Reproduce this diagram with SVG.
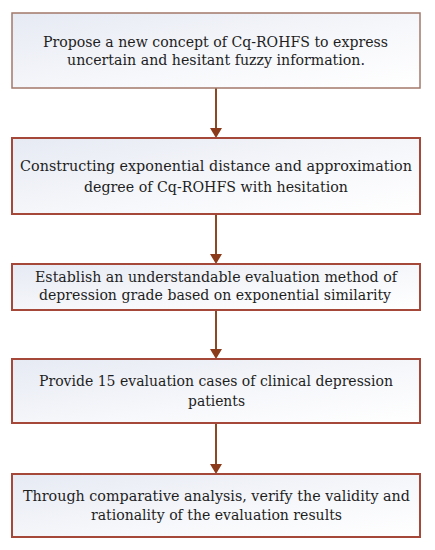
<svg xmlns="http://www.w3.org/2000/svg" width="435" height="550" viewBox="0 0 435 550">
<defs>
<linearGradient id="bg" x1="0" y1="0" x2="1" y2="1">
<stop offset="0" stop-color="#e6eaf3"/>
<stop offset="0.6" stop-color="#f7f8fb"/>
<stop offset="1" stop-color="#ffffff"/>
</linearGradient>
</defs>
<style>
.box{fill:url(#bg);stroke:#a5483a;stroke-width:2}
.box1{fill:url(#bg);stroke:#a3786a;stroke-width:1.5}
.c{stroke:#8b4a24;stroke-width:2;fill:none}
text{font-family:'DejaVu Serif',serif;font-size:15px;fill:#1e1e1e}
</style>
<rect width="435" height="550" fill="#ffffff"/>
<g id="connectors">
<line class="c" x1="216" y1="88" x2="216" y2="129"/>
<path d="M210,128 L222,128 L216,138 Z" fill="#8b3a1a"/>
<line class="c" x1="216" y1="214" x2="216" y2="255"/>
<path d="M210,254 L222,254 L216,264 Z" fill="#8b3a1a"/>
<line class="c" x1="216" y1="310" x2="216" y2="350"/>
<path d="M210,349 L222,349 L216,359 Z" fill="#8b3a1a"/>
<line class="c" x1="216" y1="423" x2="216" y2="465"/>
<path d="M210,464 L222,464 L216,474 Z" fill="#8b3a1a"/>
</g>
<g id="n1">
<rect class="box1" x="12" y="13" width="408" height="75"/>
<text x="43" y="47" textLength="345" lengthAdjust="spacingAndGlyphs">Propose a new concept of Cq-ROHFS to express</text>
<text x="67" y="65" textLength="298" lengthAdjust="spacingAndGlyphs">uncertain and hesitant fuzzy information.</text>
</g>
<g id="n2">
<rect class="box" x="12" y="138" width="408" height="76"/>
<text x="20" y="171" textLength="392" lengthAdjust="spacingAndGlyphs">Constructing  exponential distance and approximation</text>
<text x="84" y="192" textLength="264" lengthAdjust="spacingAndGlyphs">degree of Cq-ROHFS with hesitation</text>
</g>
<g id="n3">
<rect class="box" x="12" y="264" width="408" height="46"/>
<text x="35" y="282" textLength="362" lengthAdjust="spacingAndGlyphs">Establish an understandable evaluation method of</text>
<text x="39" y="300" textLength="352" lengthAdjust="spacingAndGlyphs">depression grade based on exponential similarity</text>
</g>
<g id="n4">
<rect class="box" x="12" y="359" width="408" height="64"/>
<text x="39" y="386" textLength="354" lengthAdjust="spacingAndGlyphs">Provide 15 evaluation cases of clinical depression</text>
<text x="188" y="406" textLength="57" lengthAdjust="spacingAndGlyphs">patients</text>
</g>
<g id="n5">
<rect class="box" x="12" y="474" width="408" height="63"/>
<text x="23" y="501" textLength="387" lengthAdjust="spacingAndGlyphs">Through comparative analysis, verify the validity and</text>
<text x="91" y="520" textLength="251" lengthAdjust="spacingAndGlyphs">rationality of the evaluation results</text>
</g>
</svg>
